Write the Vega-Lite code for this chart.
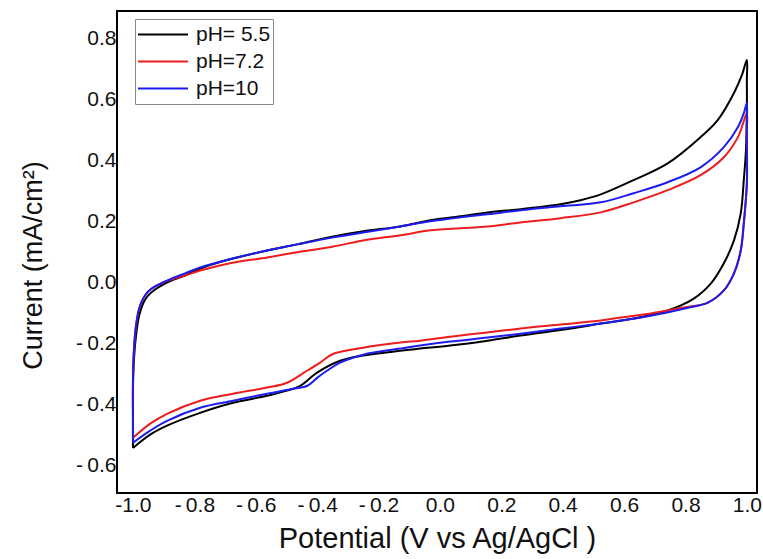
{
  "$schema": "https://vega.github.io/schema/vega-lite/v6.json",
  "autosize": {"type": "none"},
  "padding": {"left": 117, "top": 11, "right": 6, "bottom": 66},
  "width": 640,
  "height": 482,
  "background": "white",
  "config": {
    "view": {"stroke": "#000000", "strokeWidth": 2},
    "font": "Liberation Sans"
  },
  "data": {
    "values": [
      {"s": "pH= 5.5", "i": 1, "x": -1.0, "y": -0.543},
      {"s": "pH= 5.5", "i": 2, "x": -1.0, "y": -0.454},
      {"s": "pH= 5.5", "i": 3, "x": -1.0, "y": -0.355},
      {"s": "pH= 5.5", "i": 4, "x": -0.997, "y": -0.257},
      {"s": "pH= 5.5", "i": 5, "x": -0.99, "y": -0.174},
      {"s": "pH= 5.5", "i": 6, "x": -0.98, "y": -0.109},
      {"s": "pH= 5.5", "i": 7, "x": -0.967, "y": -0.069},
      {"s": "pH= 5.5", "i": 8, "x": -0.951, "y": -0.043},
      {"s": "pH= 5.5", "i": 9, "x": -0.928, "y": -0.023},
      {"s": "pH= 5.5", "i": 10, "x": -0.902, "y": -0.007},
      {"s": "pH= 5.5", "i": 11, "x": -0.873, "y": 0.007},
      {"s": "pH= 5.5", "i": 12, "x": -0.83, "y": 0.023},
      {"s": "pH= 5.5", "i": 13, "x": -0.781, "y": 0.046},
      {"s": "pH= 5.5", "i": 14, "x": -0.684, "y": 0.076},
      {"s": "pH= 5.5", "i": 15, "x": -0.563, "y": 0.105},
      {"s": "pH= 5.5", "i": 16, "x": -0.465, "y": 0.125},
      {"s": "pH= 5.5", "i": 17, "x": -0.347, "y": 0.151},
      {"s": "pH= 5.5", "i": 18, "x": -0.25, "y": 0.168},
      {"s": "pH= 5.5", "i": 19, "x": -0.129, "y": 0.184},
      {"s": "pH= 5.5", "i": 20, "x": -0.031, "y": 0.204},
      {"s": "pH= 5.5", "i": 21, "x": 0.067, "y": 0.217},
      {"s": "pH= 5.5", "i": 22, "x": 0.155, "y": 0.23},
      {"s": "pH= 5.5", "i": 23, "x": 0.263, "y": 0.24},
      {"s": "pH= 5.5", "i": 24, "x": 0.318, "y": 0.247},
      {"s": "pH= 5.5", "i": 25, "x": 0.393, "y": 0.257},
      {"s": "pH= 5.5", "i": 26, "x": 0.458, "y": 0.27},
      {"s": "pH= 5.5", "i": 27, "x": 0.524, "y": 0.289},
      {"s": "pH= 5.5", "i": 28, "x": 0.631, "y": 0.336},
      {"s": "pH= 5.5", "i": 29, "x": 0.742, "y": 0.391},
      {"s": "pH= 5.5", "i": 30, "x": 0.849, "y": 0.477},
      {"s": "pH= 5.5", "i": 31, "x": 0.905, "y": 0.533},
      {"s": "pH= 5.5", "i": 32, "x": 0.958, "y": 0.622},
      {"s": "pH= 5.5", "i": 33, "x": 0.984, "y": 0.681},
      {"s": "pH= 5.5", "i": 34, "x": 1.0, "y": 0.73},
      {"s": "pH= 5.5", "i": 35, "x": 1.0, "y": 0.664},
      {"s": "pH= 5.5", "i": 36, "x": 1.0, "y": 0.566},
      {"s": "pH= 5.5", "i": 37, "x": 0.997, "y": 0.434},
      {"s": "pH= 5.5", "i": 38, "x": 0.99, "y": 0.336},
      {"s": "pH= 5.5", "i": 39, "x": 0.98, "y": 0.227},
      {"s": "pH= 5.5", "i": 40, "x": 0.958, "y": 0.138},
      {"s": "pH= 5.5", "i": 41, "x": 0.925, "y": 0.063},
      {"s": "pH= 5.5", "i": 42, "x": 0.883, "y": -0.003},
      {"s": "pH= 5.5", "i": 43, "x": 0.827, "y": -0.053},
      {"s": "pH= 5.5", "i": 44, "x": 0.742, "y": -0.092},
      {"s": "pH= 5.5", "i": 45, "x": 0.631, "y": -0.118},
      {"s": "pH= 5.5", "i": 46, "x": 0.524, "y": -0.135},
      {"s": "pH= 5.5", "i": 47, "x": 0.426, "y": -0.151},
      {"s": "pH= 5.5", "i": 48, "x": 0.263, "y": -0.174},
      {"s": "pH= 5.5", "i": 49, "x": 0.155, "y": -0.191},
      {"s": "pH= 5.5", "i": 50, "x": 0.034, "y": -0.207},
      {"s": "pH= 5.5", "i": 51, "x": -0.064, "y": -0.217},
      {"s": "pH= 5.5", "i": 52, "x": -0.129, "y": -0.224},
      {"s": "pH= 5.5", "i": 53, "x": -0.25, "y": -0.24},
      {"s": "pH= 5.5", "i": 54, "x": -0.325, "y": -0.257},
      {"s": "pH= 5.5", "i": 55, "x": -0.4, "y": -0.296},
      {"s": "pH= 5.5", "i": 56, "x": -0.455, "y": -0.339},
      {"s": "pH= 5.5", "i": 57, "x": -0.498, "y": -0.355},
      {"s": "pH= 5.5", "i": 58, "x": -0.563, "y": -0.372},
      {"s": "pH= 5.5", "i": 59, "x": -0.674, "y": -0.395},
      {"s": "pH= 5.5", "i": 60, "x": -0.781, "y": -0.428},
      {"s": "pH= 5.5", "i": 61, "x": -0.889, "y": -0.47},
      {"s": "pH= 5.5", "i": 62, "x": -0.945, "y": -0.5},
      {"s": "pH= 5.5", "i": 63, "x": -1.0, "y": -0.543},

      {"s": "pH=7.2", "i": 1, "x": -1.0, "y": -0.51},
      {"s": "pH=7.2", "i": 2, "x": -1.0, "y": -0.421},
      {"s": "pH=7.2", "i": 3, "x": -1.0, "y": -0.322},
      {"s": "pH=7.2", "i": 4, "x": -0.997, "y": -0.224},
      {"s": "pH=7.2", "i": 5, "x": -0.99, "y": -0.141},
      {"s": "pH=7.2", "i": 6, "x": -0.98, "y": -0.086},
      {"s": "pH=7.2", "i": 7, "x": -0.967, "y": -0.053},
      {"s": "pH=7.2", "i": 8, "x": -0.951, "y": -0.03},
      {"s": "pH=7.2", "i": 9, "x": -0.928, "y": -0.013},
      {"s": "pH=7.2", "i": 10, "x": -0.902, "y": 0.0},
      {"s": "pH=7.2", "i": 11, "x": -0.873, "y": 0.01},
      {"s": "pH=7.2", "i": 12, "x": -0.83, "y": 0.023},
      {"s": "pH=7.2", "i": 13, "x": -0.781, "y": 0.039},
      {"s": "pH=7.2", "i": 14, "x": -0.684, "y": 0.063},
      {"s": "pH=7.2", "i": 15, "x": -0.563, "y": 0.082},
      {"s": "pH=7.2", "i": 16, "x": -0.465, "y": 0.099},
      {"s": "pH=7.2", "i": 17, "x": -0.347, "y": 0.118},
      {"s": "pH=7.2", "i": 18, "x": -0.25, "y": 0.138},
      {"s": "pH=7.2", "i": 19, "x": -0.129, "y": 0.155},
      {"s": "pH=7.2", "i": 20, "x": -0.031, "y": 0.171},
      {"s": "pH=7.2", "i": 21, "x": 0.067, "y": 0.178},
      {"s": "pH=7.2", "i": 22, "x": 0.155, "y": 0.184},
      {"s": "pH=7.2", "i": 23, "x": 0.263, "y": 0.197},
      {"s": "pH=7.2", "i": 24, "x": 0.393, "y": 0.211},
      {"s": "pH=7.2", "i": 25, "x": 0.524, "y": 0.23},
      {"s": "pH=7.2", "i": 26, "x": 0.631, "y": 0.263},
      {"s": "pH=7.2", "i": 27, "x": 0.742, "y": 0.303},
      {"s": "pH=7.2", "i": 28, "x": 0.849, "y": 0.352},
      {"s": "pH=7.2", "i": 29, "x": 0.925, "y": 0.411},
      {"s": "pH=7.2", "i": 30, "x": 0.971, "y": 0.477},
      {"s": "pH=7.2", "i": 31, "x": 1.0, "y": 0.556},
      {"s": "pH=7.2", "i": 32, "x": 1.0, "y": 0.5},
      {"s": "pH=7.2", "i": 33, "x": 1.0, "y": 0.434},
      {"s": "pH=7.2", "i": 34, "x": 1.0, "y": 0.326},
      {"s": "pH=7.2", "i": 35, "x": 0.99, "y": 0.194},
      {"s": "pH=7.2", "i": 36, "x": 0.98, "y": 0.105},
      {"s": "pH=7.2", "i": 37, "x": 0.958, "y": 0.03},
      {"s": "pH=7.2", "i": 38, "x": 0.925, "y": -0.026},
      {"s": "pH=7.2", "i": 39, "x": 0.873, "y": -0.066},
      {"s": "pH=7.2", "i": 40, "x": 0.794, "y": -0.082},
      {"s": "pH=7.2", "i": 41, "x": 0.687, "y": -0.102},
      {"s": "pH=7.2", "i": 42, "x": 0.589, "y": -0.115},
      {"s": "pH=7.2", "i": 43, "x": 0.524, "y": -0.125},
      {"s": "pH=7.2", "i": 44, "x": 0.393, "y": -0.138},
      {"s": "pH=7.2", "i": 45, "x": 0.263, "y": -0.151},
      {"s": "pH=7.2", "i": 46, "x": 0.155, "y": -0.164},
      {"s": "pH=7.2", "i": 47, "x": 0.034, "y": -0.178},
      {"s": "pH=7.2", "i": 48, "x": -0.064, "y": -0.191},
      {"s": "pH=7.2", "i": 49, "x": -0.129, "y": -0.197},
      {"s": "pH=7.2", "i": 50, "x": -0.25, "y": -0.214},
      {"s": "pH=7.2", "i": 51, "x": -0.347, "y": -0.234},
      {"s": "pH=7.2", "i": 52, "x": -0.39, "y": -0.263},
      {"s": "pH=7.2", "i": 53, "x": -0.432, "y": -0.289},
      {"s": "pH=7.2", "i": 54, "x": -0.498, "y": -0.329},
      {"s": "pH=7.2", "i": 55, "x": -0.563, "y": -0.345},
      {"s": "pH=7.2", "i": 56, "x": -0.674, "y": -0.365},
      {"s": "pH=7.2", "i": 57, "x": -0.781, "y": -0.388},
      {"s": "pH=7.2", "i": 58, "x": -0.889, "y": -0.431},
      {"s": "pH=7.2", "i": 59, "x": -0.945, "y": -0.464},
      {"s": "pH=7.2", "i": 60, "x": -1.0, "y": -0.51},

      {"s": "pH=10", "i": 1, "x": -1.0, "y": -0.526},
      {"s": "pH=10", "i": 2, "x": -1.0, "y": -0.421},
      {"s": "pH=10", "i": 3, "x": -1.0, "y": -0.322},
      {"s": "pH=10", "i": 4, "x": -0.997, "y": -0.224},
      {"s": "pH=10", "i": 5, "x": -0.99, "y": -0.141},
      {"s": "pH=10", "i": 6, "x": -0.98, "y": -0.086},
      {"s": "pH=10", "i": 7, "x": -0.967, "y": -0.053},
      {"s": "pH=10", "i": 8, "x": -0.951, "y": -0.03},
      {"s": "pH=10", "i": 9, "x": -0.928, "y": -0.013},
      {"s": "pH=10", "i": 10, "x": -0.902, "y": 0.0},
      {"s": "pH=10", "i": 11, "x": -0.873, "y": 0.013},
      {"s": "pH=10", "i": 12, "x": -0.83, "y": 0.03},
      {"s": "pH=10", "i": 13, "x": -0.781, "y": 0.049},
      {"s": "pH=10", "i": 14, "x": -0.684, "y": 0.076},
      {"s": "pH=10", "i": 15, "x": -0.563, "y": 0.105},
      {"s": "pH=10", "i": 16, "x": -0.465, "y": 0.125},
      {"s": "pH=10", "i": 17, "x": -0.347, "y": 0.148},
      {"s": "pH=10", "i": 18, "x": -0.25, "y": 0.164},
      {"s": "pH=10", "i": 19, "x": -0.129, "y": 0.184},
      {"s": "pH=10", "i": 20, "x": -0.031, "y": 0.201},
      {"s": "pH=10", "i": 21, "x": 0.067, "y": 0.214},
      {"s": "pH=10", "i": 22, "x": 0.155, "y": 0.224},
      {"s": "pH=10", "i": 23, "x": 0.263, "y": 0.237},
      {"s": "pH=10", "i": 24, "x": 0.393, "y": 0.25},
      {"s": "pH=10", "i": 25, "x": 0.524, "y": 0.263},
      {"s": "pH=10", "i": 26, "x": 0.631, "y": 0.293},
      {"s": "pH=10", "i": 27, "x": 0.742, "y": 0.329},
      {"s": "pH=10", "i": 28, "x": 0.849, "y": 0.378},
      {"s": "pH=10", "i": 29, "x": 0.925, "y": 0.444},
      {"s": "pH=10", "i": 30, "x": 0.971, "y": 0.51},
      {"s": "pH=10", "i": 31, "x": 0.99, "y": 0.556},
      {"s": "pH=10", "i": 32, "x": 1.0, "y": 0.589},
      {"s": "pH=10", "i": 33, "x": 1.0, "y": 0.533},
      {"s": "pH=10", "i": 34, "x": 1.0, "y": 0.467},
      {"s": "pH=10", "i": 35, "x": 1.0, "y": 0.326},
      {"s": "pH=10", "i": 36, "x": 0.99, "y": 0.194},
      {"s": "pH=10", "i": 37, "x": 0.98, "y": 0.105},
      {"s": "pH=10", "i": 38, "x": 0.958, "y": 0.03},
      {"s": "pH=10", "i": 39, "x": 0.925, "y": -0.026},
      {"s": "pH=10", "i": 40, "x": 0.873, "y": -0.066},
      {"s": "pH=10", "i": 41, "x": 0.794, "y": -0.086},
      {"s": "pH=10", "i": 42, "x": 0.687, "y": -0.109},
      {"s": "pH=10", "i": 43, "x": 0.589, "y": -0.125},
      {"s": "pH=10", "i": 44, "x": 0.524, "y": -0.135},
      {"s": "pH=10", "i": 45, "x": 0.393, "y": -0.151},
      {"s": "pH=10", "i": 46, "x": 0.263, "y": -0.168},
      {"s": "pH=10", "i": 47, "x": 0.155, "y": -0.181},
      {"s": "pH=10", "i": 48, "x": 0.034, "y": -0.194},
      {"s": "pH=10", "i": 49, "x": -0.064, "y": -0.207},
      {"s": "pH=10", "i": 50, "x": -0.129, "y": -0.217},
      {"s": "pH=10", "i": 51, "x": -0.25, "y": -0.237},
      {"s": "pH=10", "i": 52, "x": -0.325, "y": -0.263},
      {"s": "pH=10", "i": 53, "x": -0.367, "y": -0.289},
      {"s": "pH=10", "i": 54, "x": -0.4, "y": -0.313},
      {"s": "pH=10", "i": 55, "x": -0.432, "y": -0.339},
      {"s": "pH=10", "i": 56, "x": -0.478, "y": -0.349},
      {"s": "pH=10", "i": 57, "x": -0.563, "y": -0.365},
      {"s": "pH=10", "i": 58, "x": -0.674, "y": -0.388},
      {"s": "pH=10", "i": 59, "x": -0.781, "y": -0.411},
      {"s": "pH=10", "i": 60, "x": -0.889, "y": -0.454},
      {"s": "pH=10", "i": 61, "x": -0.945, "y": -0.487},
      {"s": "pH=10", "i": 62, "x": -1.0, "y": -0.526}
    ]
  },
  "mark": {"type": "line", "strokeWidth": 2, "interpolate": "catmull-rom"},
  "encoding": {
    "x": {
      "field": "x",
      "type": "quantitative",
      "scale": {"domain": [-1.052, 1.033], "nice": false, "zero": false},
      "axis": {
        "title": "Potential (V vs Ag/AgCl )",
        "values": [-1.0, -0.8, -0.6, -0.4, -0.2, 0.0, 0.2, 0.4, 0.6, 0.8, 1.0],
        "labelExpr": "datum.value < -0.95 ? '-' + format(-datum.value, '.1f') : (datum.value < 0 ? '-\u2009' + format(-datum.value, '.1f') : format(datum.value, '.1f'))",
        "grid": false,
        "domain": false,
        "ticks": false,
        "labelFont": "Liberation Sans",
        "labelFontSize": 21,
        "labelColor": "#111",
        "labelPadding": 1,
        "titleFont": "Liberation Sans",
        "titleFontSize": 29,
        "titleFontWeight": "normal",
        "titleColor": "#111",
        "titlePadding": 9
      }
    },
    "y": {
      "field": "y",
      "type": "quantitative",
      "scale": {"domain": [-0.691, 0.891], "nice": false, "zero": false},
      "axis": {
        "title": "Current (mA/cm²)",
        "values": [-0.6, -0.4, -0.2, 0.0, 0.2, 0.4, 0.6, 0.8],
        "labelExpr": "datum.value < 0 ? '-\u2009' + format(-datum.value, '.1f') : format(datum.value, '.1f')",
        "grid": false,
        "domain": false,
        "ticks": false,
        "labelFont": "Liberation Sans",
        "labelFontSize": 21,
        "labelColor": "#111",
        "labelPadding": 1,
        "titleFont": "Liberation Sans",
        "titleFontSize": 27,
        "titleFontWeight": "normal",
        "titleColor": "#111",
        "titlePadding": 28,
        "titleY": 254
      }
    },
    "color": {
      "field": "s",
      "type": "nominal",
      "sort": ["pH= 5.5", "pH=7.2", "pH=10"],
      "scale": {"domain": ["pH= 5.5", "pH=7.2", "pH=10"], "range": ["#000000", "#ee1c1c", "#1c1cee"]},
      "legend": {
        "title": null,
        "orient": "none",
        "legendX": 18,
        "legendY": 8,
        "padding": 2,
        "strokeColor": "#888888",
        "fillColor": "white",
        "symbolType": "stroke",
        "symbolSize": 2500,
        "symbolStrokeWidth": 2,
        "clipHeight": 27,
        "rowPadding": 0,
        "labelOffset": 7,
        "labelExpr": "datum.label == 'pH= 5.5' ? datum.label : '\u00a0' + datum.label",
        "labelFont": "Liberation Sans",
        "labelFontSize": 21,
        "labelColor": "#111"
      }
    },
    "order": {"field": "i", "type": "quantitative"}
  }
}
